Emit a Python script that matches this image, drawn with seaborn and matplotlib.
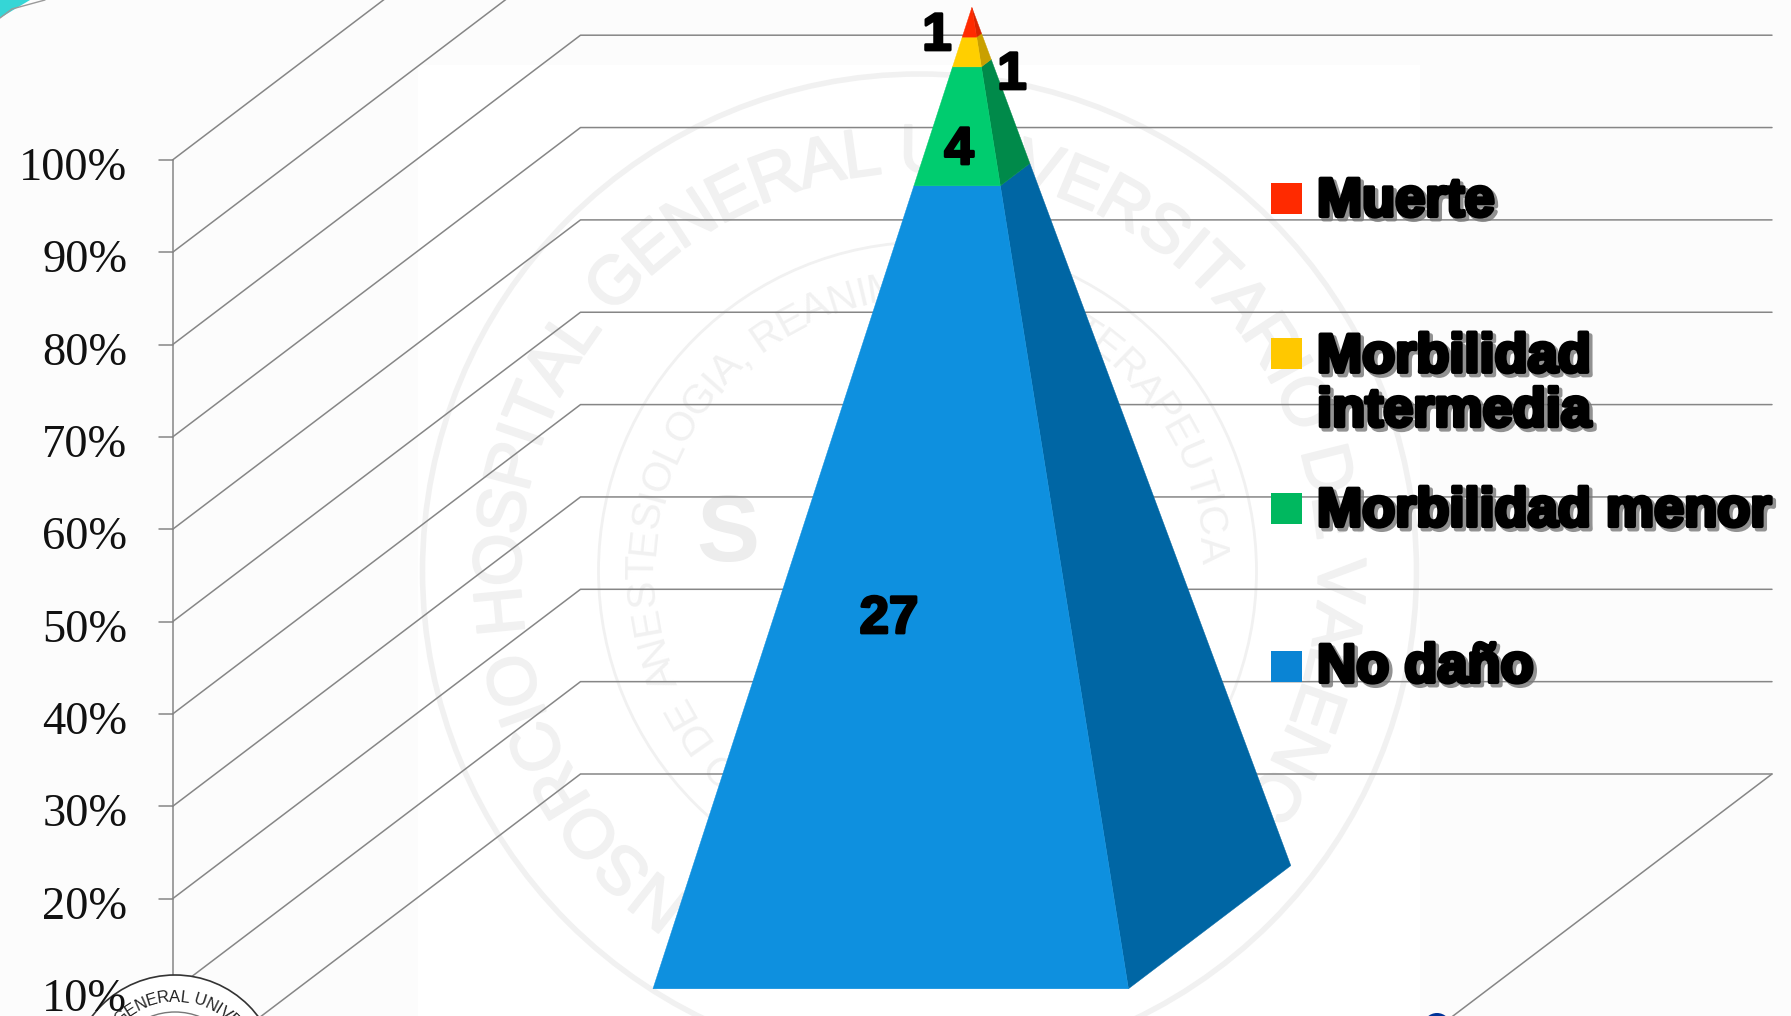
import numpy as np
import pandas as pd
import matplotlib
matplotlib.use("Agg")
import matplotlib.pyplot as plt
import matplotlib.patheffects as pe
from matplotlib.font_manager import FontProperties
from matplotlib.patches import Polygon, Circle, Rectangle
from matplotlib.textpath import TextToPath
from matplotlib.transforms import Affine2D
import seaborn as sns

# ---- data ----
categories = ["No daño", "Morbilidad menor", "Morbilidad intermedia", "Muerte"]
values = [27, 4, 1, 1]
legend_labels = ["Muerte", "Morbilidad\nintermedia", "Morbilidad menor", "No daño"]
tick_values = [0, 10, 20, 30, 40, 50, 60, 70, 80, 90, 100]
tick_labels = ["0%", "10%", "20%", "30%", "40%", "50%", "60%", "70%", "80%", "90%", "100%"]

front_colors = ["#0E90DF", "#00CC6F", "#FFCF00", "#FF2A00"]
side_colors = ["#0066A4", "#008A4A", "#C9A000", "#D92400"]
legend_colors = {"Muerte": "#FF2A00", "Morbilidad\nintermedia": "#FFC800",
                 "Morbilidad menor": "#00B85F", "No daño": "#0A84D4"}

sns.set_theme(style="white")
plt.rcParams["font.family"] = ["Liberation Sans", "DejaVu Sans"]

W, H = 1791, 1016
fig = plt.figure(figsize=(W / 100, H / 100), dpi=100, facecolor="white")
ax = fig.add_axes([0, 0, 1, 1])

# screen layout of the oblique chart box (pixels)
X0, Y0, PCT_PX = 172.5, 1083.5, 9.235
DEPTH_X, DEPTH_Y = 408.0, 309.5
WALL_W = 1191.5


def frame():
    ax.set_xlim(0, W)
    ax.set_ylim((Y0 - H) / PCT_PX, Y0 / PCT_PX)   # y axis in percent
    ax.axis("off")


frame()
px = Affine2D().scale(1, -1).translate(0, H)  # overlay in pixel coords


def project(x, depth, pct):
    """Oblique projection of (x along the wall, depth 0..1, percent)."""
    return X0 + x + DEPTH_X * depth, pct + depth * DEPTH_Y / PCT_PX


# ---- background + watermark ----
for rect in [(0, 0, 418, H), (1420, 0, W - 1420, H), (418, 0, 1002, 65)]:
    ax.add_patch(Rectangle(rect[:2], rect[2], rect[3], transform=px, fc="#FCFCFC", ec="none", zorder=0))

WM = "#F1F1F1"
CX, CY = 919.5, 571
ICX = CX + 8
ax.add_patch(Circle((CX, CY), 497, transform=px, fc="none", ec=WM, lw=4, zorder=1))
ax.add_patch(Circle((ICX, CY), 329, transform=px, fc="none", ec=WM, lw=2, zorder=1))

ttp = TextToPath()


def arc_text(s, cx, cy, r, anchor_index, anchor_angle, color, size, zorder=1, weight="normal", stroke=0):
    """Curved text, clockwise; char `anchor_index` is centred on `anchor_angle`."""
    prop = FontProperties(family="Liberation Sans", size=size, weight=weight)
    adv = np.array([ttp.get_text_width_height_descent(c, prop, False)[0] * 100 / 72 for c in s])
    centres = np.cumsum(adv) - adv / 2
    angles = anchor_angle - np.rad2deg((centres - centres[anchor_index]) / r)
    effects = [pe.withStroke(linewidth=stroke, foreground=color)] if stroke else None
    for ch, deg in zip(s, angles):
        a = np.deg2rad(deg)
        ax.text(cx + r * np.cos(a), cy - r * np.sin(a), ch, transform=px,
                rotation=deg - 90, rotation_mode="anchor", ha="center", va="center",
                fontsize=size, color=color, zorder=zorder, fontweight=weight,
                clip_on=True, path_effects=effects)


arc_text("CONSORCIO HOSPITAL GENERAL UNIVERSITARIO DE VALENCIA", CX, CY, 417, 10, 185.5, WM, 49, stroke=1.5)
arc_text("SERVICIO DE ANESTESIOLOGIA, REANIMACION Y TERAPEUTICA", ICX, CY, 285, 9, 215, WM, 29.5)
ax.text(728, 537, "S", transform=px, ha="center", va="center", fontsize=68, color="#EDEDED",
        fontweight="bold", zorder=1)

# ---- walls: grid lines from the percent scale ----
rows = []
for t in tick_values:
    for x, d in [(0, 0), (0, 1), (WALL_W, 1)]:
        sx, sy = project(x, d, t)
        rows.append({"line": f"g{t}", "sx": sx, "sy": sy})
for x, d in [(WALL_W, 1), (WALL_W, 0)]:
    sx, sy = project(x, d, 0)
    rows.append({"line": "floor", "sx": sx, "sy": sy})
for t in (0, 100):
    sx, sy = project(0, 0, t)
    rows.append({"line": "axis", "sx": sx, "sy": sy})
grid = pd.DataFrame(rows)
sns.lineplot(data=grid, x="sx", y="sy", units="line", estimator=None, sort=False,
             color="#868686", lw=1.1, ax=ax, legend=False, zorder=2)
frame()

for t, lab in zip(tick_values, tick_labels):
    ax.plot([X0 - 14, X0], [t, t], color="#868686", lw=1.1, zorder=2)
    ax.text(X0 - 45, t - 0.95, lab, ha="right", va="center", fontsize=33.5,
            family="Liberation Serif", color="#111111", zorder=11, clip_on=True)

# ---- pyramid built from the cumulative shares ----
cum = np.cumsum([0] + values) / np.sum(values)
P_LEFT, P_RIGHT = 355.6, 831.1
D_FRONT, D_BACK = 0.306, 0.704
P_CX, D_C = (P_LEFT + P_RIGHT) / 2, (D_FRONT + D_BACK) / 2
TOP = 99.6


def corner(x0, d0, t):
    x = P_CX + (x0 - P_CX) * (1 - t)
    d = D_C + (d0 - D_C) * (1 - t)
    return project(x, d, t * TOP)


for i in range(len(values)):
    lo, hi = cum[i], cum[i + 1]
    front = [corner(P_LEFT, D_FRONT, lo), corner(P_RIGHT, D_FRONT, lo),
             corner(P_RIGHT, D_FRONT, hi), corner(P_LEFT, D_FRONT, hi)]
    side = [corner(P_RIGHT, D_FRONT, lo), corner(P_RIGHT, D_BACK, lo),
            corner(P_RIGHT, D_BACK, hi), corner(P_RIGHT, D_FRONT, hi)]
    ax.add_patch(Polygon(side, fc=side_colors[i], ec=side_colors[i], lw=0.3, zorder=3))
    ax.add_patch(Polygon(front, fc=front_colors[i], ec=front_colors[i], lw=0.3, zorder=4))

# ---- data labels ----
label_pos = [(889, 619), (959, 150), (1012, 75), (937, 36)]
for v, (lx, ly) in zip(values, label_pos):
    ax.text(lx, ly, str(v), transform=px, ha="center", va="center", fontsize=38,
            fontweight="bold", color="black", zorder=7,
            path_effects=[pe.withStroke(linewidth=2, foreground="black")])

# ---- legend ----
leg_y_px = [199, 354, 509, 666]
leg_text_y = [202, 385, 512, 668]
leg = pd.DataFrame({"name": legend_labels,
                    "lx": [1286.5] * 4,
                    "ly": [(Y0 - y) / PCT_PX for y in leg_y_px]})
sns.scatterplot(data=leg, x="lx", y="ly", hue="name", palette=legend_colors, marker="s",
                s=(31 * 0.72) ** 2, linewidth=0, legend=False, ax=ax, zorder=7)
frame()
effects = [pe.SimpleLineShadow(offset=(2.2, -2.2), shadow_color="#777777", alpha=0.8, linewidth=3.5),
           pe.Stroke(linewidth=3, foreground="black"), pe.Normal()]
for lab, y in zip(legend_labels, leg_text_y):
    ax.text(1317, y, lab, transform=px, ha="left", va="center",
            fontsize=39, fontweight="bold", color="black", zorder=8, linespacing=1.11,
            path_effects=effects)

# ---- slide furniture cut by the edges ----
ax.add_patch(Circle((1437, 1027), 14, transform=px, fc="#003399", ec="none", zorder=9))
ax.add_patch(Circle((175, 1079), 104, transform=px, fc="white", ec="#333333", lw=1.2, zorder=9))
ax.add_patch(Circle((175, 1079), 67, transform=px, fc="white", ec="#777777", lw=1.0, zorder=9))
arc_text("GENERAL UNIVE", 175, 1079, 82, 0, 131, "#222222", 12, zorder=10)
ax.add_patch(Polygon([(0, 0), (30, 0), (0, 18)], transform=px, fc="#35D6D6", ec="none", zorder=9))
ax.plot([0, 12, 45], [18, 9, 0], transform=px, color="#9A9A9A", lw=1, zorder=9)

fig.savefig("out.png", dpi=100)
